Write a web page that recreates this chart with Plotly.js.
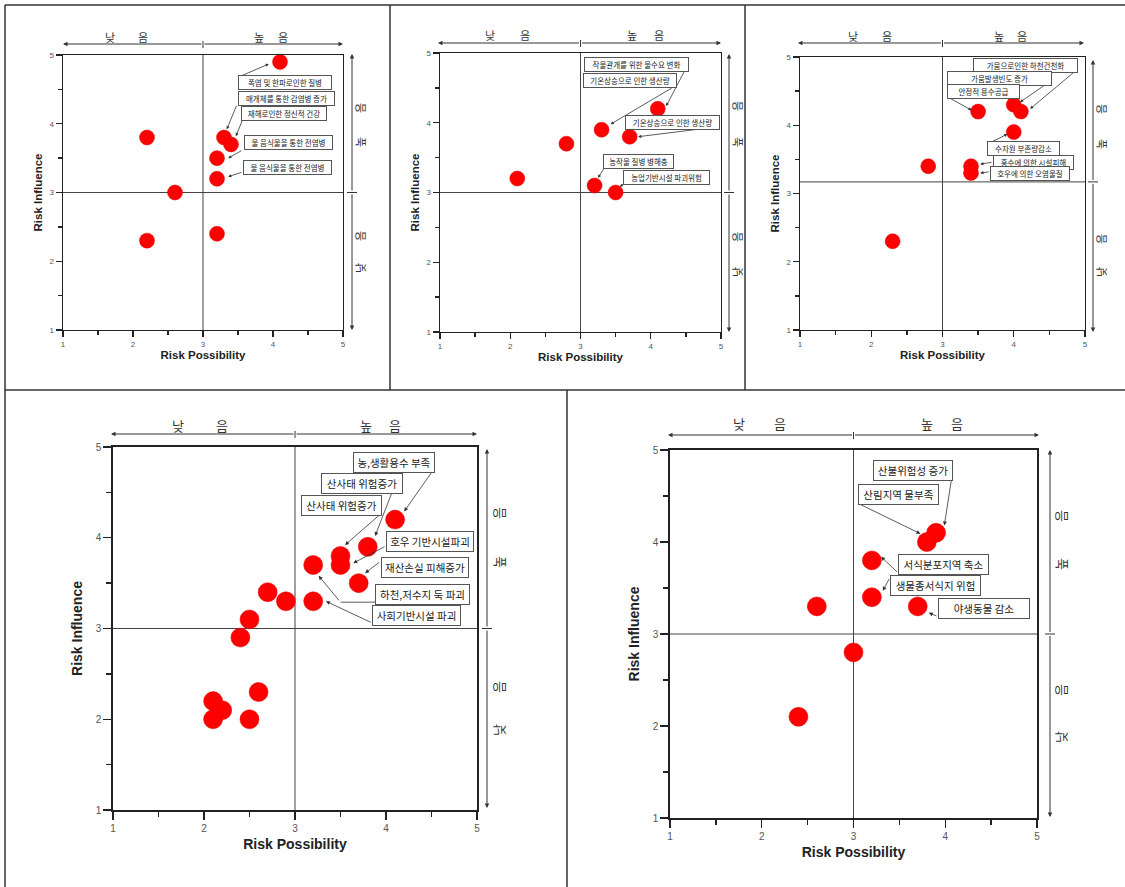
<!DOCTYPE html>
<html>
<head>
<meta charset="utf-8">
<script src="https://cdn.plot.ly/plotly-3.0.1.min.js"></script>
<style>html,body{margin:0;padding:0;background:#fff}#chart{width:1125px;height:887px}</style>
</head>
<body>
<div id="chart"></div>
<script>
// ---------- DATA ----------
// Panel 1 : health
const healthX = [4.1, 2.2, 3.3, 3.4, 3.2, 3.2, 2.6, 3.2, 2.2];
const healthY = [4.9, 3.8, 3.8, 3.7, 3.5, 3.2, 3.0, 2.4, 2.3];
const healthLabels = ['폭염 및 한파로인한 질병', '매개체를 통한 감염병 증가', '재해로인한 정신적 건강', '물 음식물을 통한 전염병', '물 음식물을 통한 전염병'];
// Panel 2 : agriculture
const agriX = [4.1, 3.3, 3.7, 2.8, 2.1, 3.2, 3.5];
const agriY = [4.2, 3.9, 3.8, 3.7, 3.2, 3.1, 3.0];
const agriLabels = ['작물관개를 위한 물수요 변화', '기온상승으로 인한 생산량', '기온상승으로 인한 생산량', '농작물 질병 병해충', '농업기반시설 파괴위험'];
// Panel 3 : water
const waterX = [3.5, 4.0, 4.1, 4.0, 2.8, 3.4, 3.4, 2.3];
const waterY = [4.2, 4.3, 4.2, 3.9, 3.4, 3.4, 3.3, 2.3];
const waterLabels = ['가뭄으로인한 하천건천화', '가뭄발생빈도 증가', '안정적 용수공급', '수자원 부존량감소', '홍수에 의한 시설피해', '호우에 의한 오염물질'];
// Panel 4 : disaster
const disasterX = [4.1, 3.8, 3.5, 3.5, 3.2, 3.7, 2.7, 2.9, 3.2, 2.5, 2.4, 2.6, 2.1, 2.2, 2.1, 2.5];
const disasterY = [4.2, 3.9, 3.8, 3.7, 3.7, 3.5, 3.4, 3.3, 3.3, 3.1, 2.9, 2.3, 2.2, 2.1, 2.0, 2.0];
const disasterLabels = ['농,생활용수 부족', '산사태 위험증가', '산사태 위험증가', '호우 기반시설파괴', '재산손실 피해증가', '하천,저수지 둑 파괴', '사회기반시설 파괴'];
// Panel 5 : ecosystem
const ecoX = [3.9, 3.8, 3.2, 3.2, 2.6, 3.7, 3.0, 2.4];
const ecoY = [4.1, 4.0, 3.8, 3.4, 3.3, 3.3, 2.8, 2.1];
const ecoLabels = ['산불위험성 증가', '산림지역 물부족', '서식분포지역 축소', '생물종서식지 위험', '야생동물 감소'];

const axisRange = [1, 5];
const midValue = 3;
const waterMidY = 3.17;
const xTitle = 'Risk Possibility';
const yTitle = 'Risk Influence';
const topChars = ['낮', '음', '높', '음'];
const sideChars = ['음', '높', '음', '낮'];

// ---------- LABEL PLACEMENT (data coords) ----------
const healthPos = [[4.17,4.60],[4.19,4.37],[4.16,4.15],[4.22,3.73],[4.21,3.37]];
const healthArr = [[3.51,4.68,3.94,4.87],[3.49,4.29,3.34,3.92],[3.57,4.07,3.47,3.82],[3.57,3.62,3.36,3.50],[3.57,3.30,3.36,3.23]];
const agriPos = [[3.80,4.84],[3.70,4.60],[4.31,4.00],[3.83,3.45],[4.22,3.22]];
const agriArr = [[4.49,4.76,4.22,4.24],[4.32,4.51,3.43,3.98],[4.94,3.94,3.82,3.80],[3.35,3.37,3.25,3.21],[3.63,3.14,3.56,3.08]];
const waterPos = [[4.165,4.87],[3.80,4.69],[3.575,4.49],[4.14,3.66],[4.28,3.46],[4.23,3.30]];
const waterArr = [[4.86,4.79,4.23,4.24],[4.48,4.62,4.09,4.34],[3.08,4.41,3.41,4.22],[3.64,3.73,3.91,3.87],[3.71,3.46,3.53,3.43],[3.67,3.32,3.53,3.30]];
const disasterPos = [[4.085,4.83],[3.735,4.595],[3.515,4.36],[4.48,3.955],[4.425,3.675],[4.405,3.37],[4.34,3.145]];
const disasterArr = [[4.515,4.74,4.20,4.29],[4.07,4.51,3.88,4.02],[3.95,4.27,3.55,3.92],[4.0,3.91,3.64,3.72],[3.94,3.74,3.77,3.61],[3.50,3.29,3.26,3.58],[3.85,3.06,3.34,3.30]];
const ecoPos = [[3.645,4.78],[3.49,4.515],[3.985,3.755],[3.895,3.53],[4.42,3.275]];
const ecoArr = [[4.08,4.76,3.99,4.18],[3.05,4.42,3.73,4.09],[3.49,3.66,3.30,3.84],[3.40,3.62,3.32,3.47],[3.92,3.19,3.82,3.23]];

// ---------- LAYOUT (pixel geometry) ----------
const W = 1125, H = 887;
const PX = v => v / W, PY = v => 1 - v / H;
const KR = 'Noto Sans CJK KR, sans-serif';
const EN = 'Liberation Sans, Arial, sans-serif';

const panels = [
  {x:healthX, y:healthY, labels:healthLabels, pos:healthPos, arr:healthArr, hLine:midValue, box:[63,343,55,330], big:false,
   boxW:[94,97,86,89,89], top:{y:44,x0:63,x1:343,cy:37,cx:[110,143,259,283]}, side:{x:352,y0:54,y1:330,cx:360,cy:[108,142,236,268]}},
  {x:agriX, y:agriY, labels:agriLabels, pos:agriPos, arr:agriArr, hLine:midValue, box:[440,721,53,332], big:false,
   boxW:[105,94,95,71,87], top:{y:43,x0:438,x1:721,cy:35,cx:[490,525,632,659]}, side:{x:729,y0:54,y1:332,cx:737,cy:[106,142,237,272]}},
  {x:waterX, y:waterY, labels:waterLabels, pos:waterPos, arr:waterArr, hLine:waterMidY, box:[800,1085,57,330], big:false,
   boxW:[105,105,73,73,81,80], top:{y:43,x0:798,x1:1084,cy:36,cx:[853,887,999,1022]}, side:{x:1093,y0:60,y1:332,cx:1101,cy:[109,144,239,272]}},
  {x:disasterX, y:disasterY, labels:disasterLabels, pos:disasterPos, arr:disasterArr, hLine:midValue, box:[113,477,447,810], big:true,
   boxW:[82,82,81,88,88,95,89], top:{y:434,x0:111,x1:477,cy:425,cx:[178,222,366,395]}, side:{x:487,y0:449,y1:808,cx:498,cy:[513,562,687,730]}},
  {x:ecoX, y:ecoY, labels:ecoLabels, pos:ecoPos, arr:ecoArr, hLine:midValue, box:[670,1037,450,818], big:true,
   boxW:[80,81,91,91,92], top:{y:435,x0:668,x1:1039,cy:424,cx:[739,780,927,957]}, side:{x:1050,y0:450,y1:817,cx:1060,cy:[516,564,690,737]}}
];

function makeAxis(domain, anchor, title, big, isX) {
  return {
    domain: domain, anchor: anchor, range: axisRange, tickmode: 'linear', tick0: 1, dtick: 1,
    showgrid: false, zeroline: false, showline: true, mirror: true,
    linecolor: '#222', linewidth: big ? 1.8 : 1.4,
    ticks: 'outside', ticklen: big ? 8 : 6, tickwidth: 1.3, tickcolor: '#222',
    tickfont: {family: EN, size: big ? 10 : 8, color: '#555'},
    minor: {dtick: 0.5, tick0: 1, ticks: 'outside', ticklen: big ? 5 : 4, tickwidth: 1.3, tickcolor: '#222', showgrid: false},
    title: {text: title, font: {family: EN, size: big ? 14 : 11.5, weight: 'bold', color: '#222'}, standoff: isX ? (big ? 6 : 3) : (big ? 10 : 4)},
    fixedrange: true
  };
}

const layout = {
  width: W, height: H, margin: {l: 0, r: 0, t: 0, b: 0},
  paper_bgcolor: '#fff', plot_bgcolor: '#fff', showlegend: false,
  annotations: [], shapes: []
};
const traces = [];
const A = layout.annotations, S = layout.shapes;

// panel frames
const frameLine = {color: '#333', width: 1.5};
[[5,5,1125,5],[5,5,5,887],[5,390,1125,390],[390,5,390,390],[745,5,745,390],[567,390,567,887]].forEach(l => {
  S.push({type:'line', xref:'paper', yref:'paper', x0:PX(l[0]), y0:PY(l[1]), x1:PX(l[2]), y1:PY(l[3]), line:frameLine});
});

function arrowAnn(xp, yp, dx, dy) {
  A.push({xref:'paper', yref:'paper', x:PX(xp), y:PY(yp), ax:dx, ay:dy, text:' ', font:{size:1},
          showarrow:true, arrowhead:2, arrowsize:0.9, arrowwidth:1, arrowcolor:'#333', standoff:0, startstandoff:0});
}

panels.forEach((p, i) => {
  const n = i === 0 ? '' : String(i + 1);
  const xa = 'x' + n, ya = 'y' + n;
  const [bx0, bx1, by0, by1] = p.box;
  layout['xaxis' + n] = makeAxis([PX(bx0), PX(bx1)], ya, xTitle, p.big, true);
  layout['yaxis' + n] = makeAxis([PY(by1), PY(by0)], xa, yTitle, p.big, false);
  traces.push({type:'scatter', mode:'markers', x:p.x, y:p.y, xaxis:xa, yaxis:ya, cliponaxis:false,
               marker:{size: p.big ? 19 : 15, color:'#ff0000', line:{color:'#e00000', width:0.5}}, hoverinfo:'x+y'});
  // quadrant lines
  S.push({type:'line', xref:xa, yref:ya, x0:midValue, x1:midValue, y0:1, y1:5, layer:'below', line:{color:'#444', width:1}});
  S.push({type:'line', xref:xa, yref:ya, x0:1, x1:5, y0:p.hLine, y1:p.hLine, layer:'below', line:{color:'#444', width:1}});
  // labels + arrows
  p.labels.forEach((t, k) => {
    const a = p.arr[k];
    A.push({xref:xa, yref:ya, axref:xa, ayref:ya, ax:a[0], ay:a[1], x:a[2], y:a[3], text:' ', font:{size:1},
            showarrow:true, arrowhead:2, arrowsize:p.big ? 1 : 0.8, arrowwidth:0.8, arrowcolor:'#333', standoff:0, startstandoff:0});
    A.push({xref:xa, yref:ya, x:p.pos[k][0], y:p.pos[k][1], text:t, showarrow:false,
            font:{family:KR, size:p.big ? 10.5 : 7.5, color:'#222'}, bgcolor:'#fff', bordercolor:'#555', borderwidth:1,
            borderpad:p.big ? 2 : 1, width:p.boxW[k] - (p.big ? 6 : 4), xanchor:'center', yanchor:'middle'});
  });
  if (i === 3) {
    const a = p.arr[5];
    S.push({type:'line', xref:xa, yref:ya, x0:a[0], y0:a[1], x1:p.pos[5][0] - 0.52, y1:a[1], line:{color:'#333', width:0.8}});
  }
  // top scale arrow
  const tx = bx0 + (midValue - 1) / 4 * (bx1 - bx0);
  arrowAnn(p.top.x0, p.top.y, tx - p.top.x0, 0);
  arrowAnn(p.top.x1, p.top.y, tx - p.top.x1, 0);
  S.push({type:'line', xref:'paper', yref:'paper', x0:PX(tx), x1:PX(tx), y0:PY(p.top.y - 3), y1:PY(p.top.y + 4), line:{color:'#333', width:1}});
  p.top.cx.forEach((cx, k) => {
    A.push({xref:'paper', yref:'paper', x:PX(cx), y:PY(p.top.cy), text:topChars[k], showarrow:false,
            font:{family:KR, size:p.big ? 13 : 11, color:'#333'}, xanchor:'center', yanchor:'middle'});
  });
  // side scale arrow
  const ty = by1 - (p.hLine - 1) / 4 * (by1 - by0);
  arrowAnn(p.side.x, p.side.y0, 0, ty - p.side.y0);
  arrowAnn(p.side.x, p.side.y1, 0, ty - p.side.y1);
  S.push({type:'line', xref:'paper', yref:'paper', x0:PX(p.side.x - 5), x1:PX(p.side.x + 5), y0:PY(ty), y1:PY(ty), line:{color:'#333', width:1}});
  p.side.cy.forEach((cy, k) => {
    A.push({xref:'paper', yref:'paper', x:PX(p.side.cx), y:PY(cy), text:sideChars[k], showarrow:false, textangle:-90,
            font:{family:KR, size:p.big ? 13 : 11, color:'#333'}, xanchor:'center', yanchor:'middle'});
  });
});

Plotly.newPlot('chart', traces, layout, {displayModeBar:false, staticPlot:true});
</script>
</body>
</html>
